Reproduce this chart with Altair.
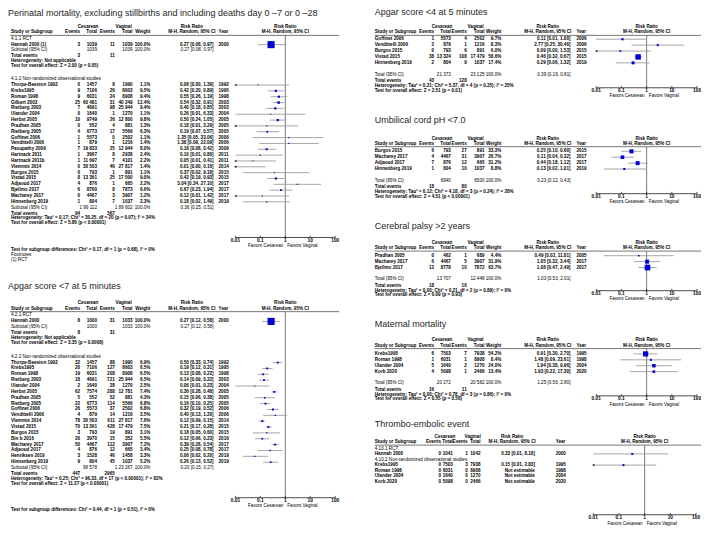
import altair as alt
import pandas as pd

# ======================= DATA =======================
tick_values = [0.01, 0.1, 1, 10, 100]
tick_labels = ["0.01", "0.1", "1", "10", "100"]
favours_labels = ["Favors Cesarean", "Favors Vaginal"]

# ---------- 4.1 Perinatal mortality ----------
pm_title = "Perinatal mortality, excluding stillbirths  and including deaths day 0 \u20137 or 0 \u201328"
pm_rct_label = "4.1.1 RCT"
pm_rct_study = ["Hannah 2000 (1)"]
pm_rct_ev_c = ["3"]
pm_rct_n_c = ["1039"]
pm_rct_ev_v = ["11"]
pm_rct_n_v = ["1039"]
pm_rct_weight = [100.0]
pm_rct_rr = [0.27]
pm_rct_lo = [0.08]
pm_rct_hi = [0.97]
pm_rct_year = ["2000"]
pm_rct_arrow = [0]
pm_rct_total_n = ["1039", "1039"]
pm_rct_total_ci = [0.27, 0.08, 0.97]
pm_rct_events = ["3", "11"]
pm_rct_het = "Heterogeneity: Not applicable"
pm_rct_test = "Test for overall effect: Z = 2.00 (p = 0.05)"

pm_obs_label = "4.1.2 Non-randomized observational studies"
pm_obs_study = ["Thorpe-Beeston 1992", "Krebs1995", "Roman 1998", "Gilbert 2003", "Rietberg 2003",
                "Ulander 2004", "Herbst 2005", "Pradhan 2005", "Rietberg 2005", "Goffinet 2006",
                "Vendittelli 2006", "Pasupathy 2009", "Hartnack 2011", "Hartnack 2011b", "Vlemmix 2014",
                "Burgos 2015", "Vistad 2015", "Adjaoud 2017", "Bjellmo 2017", "Macharey 2017",
                "Hinnenberg 2019"]
pm_obs_ev_c = ["0", "9", "9", "25", "7", "0", "10", "0", "4", "1", "1", "7", "1", "1", "0", "0", "8", "4", "6", "0", "1"]
pm_obs_n_c = ["1457", "7106", "6031", "60 481", "4691", "1640", "9749", "552", "6773", "5573", "879",
              "19 833", "3667", "11 697", "30 503", "793", "13 361", "876", "8760", "4467", "804"]
pm_obs_ev_v = ["8", "26", "24", "31", "98", "1", "26", "4", "17", "0", "1", "25", "8", "7", "46", "1", "25", "1", "8", "3", "7"]
pm_obs_n_v = ["1990", "8603", "8908", "40 249", "25 944", "1270", "12 800", "881", "5566", "2502", "1216",
              "12 944", "2938", "4101", "27 817", "891", "17 500", "665", "7873", "3907", "1037"]
pm_obs_weight = [1.1, 9.5, 9.4, 12.4, 9.4, 1.1, 9.8, 1.3, 6.3, 1.1, 1.4, 8.0, 2.4, 2.2, 1.4, 1.1, 9.0, 2.2, 6.6, 1.2, 2.3]
pm_obs_rr = [0.08, 0.42, 0.55, 0.54, 0.40, 0.26, 0.50, 0.18, 0.19, 1.35, 1.38, 0.18, 0.10, 0.05, 0.01, 0.37, 0.42, 3.04, 0.67, 0.12, 0.18]
pm_obs_lo = [0.00, 0.20, 0.26, 0.32, 0.18, 0.01, 0.24, 0.01, 0.07, 0.05, 0.09, 0.08, 0.01, 0.01, 0.00, 0.02, 0.19, 0.34, 0.23, 0.01, 0.02]
pm_obs_hi = [1.39, 0.89, 1.19, 0.91, 0.85, 6.33, 1.05, 3.29, 0.57, 33.06, 22.09, 0.42, 0.80, 0.41, 0.16, 9.18, 0.93, 27.10, 1.94, 1.42, 1.49]
pm_obs_year = ["1992", "1995", "1998", "2003", "2003", "2004", "2005", "2005", "2005", "2006", "2006",
               "2009", "2011", "2011", "2014", "2015", "2015", "2017", "2017", "2017", "2019"]
pm_obs_arrow = [1, 0, 0, 0, 0, 0, 0, 1, 0, 0, 0, 0, 0, 1, 1, 0, 0, 0, 0, 1, 0]
pm_obs_total_n = ["1 99 112", "1 89 602"]
pm_obs_total_ci = [0.36, 0.25, 0.51]
pm_obs_events = ["94", "367"]
pm_obs_het = "Heterogeneity: Tau\u00b2 = 0.17; Chi\u00b2 = 30.25, df = 20 (p = 0.07); I\u00b2 = 34%"
pm_obs_test = "Test for overall effect: Z = 5.86 (p < 0.00001)"
pm_subgroup = "Test for subgroup differences: Chi\u00b2 = 0.17, df = 1 (p = 0.68), I\u00b2 = 0%"
pm_footnotes = ["Footnotes", "(1) RCT"]

# ---------- 4.2 Apgar <7 ----------
a7_title = "Apgar score <7 at 5 minutes"
a7_rct_label = "4.2.1 RCT"
a7_rct_study = ["Hannah 2000"]
a7_rct_ev_c = ["8"]
a7_rct_n_c = ["1000"]
a7_rct_ev_v = ["31"]
a7_rct_n_v = ["1033"]
a7_rct_weight = [100.0]
a7_rct_rr = [0.27]
a7_rct_lo = [0.12]
a7_rct_hi = [0.58]
a7_rct_year = ["2000"]
a7_rct_arrow = [0]
a7_rct_total_n = ["1000", "1033"]
a7_rct_total_ci = [0.27, 0.12, 0.58]
a7_rct_events = ["8", "31"]
a7_rct_het = "Heterogeneity: Not applicable"
a7_rct_test = "Test for overall effect: Z = 3.35 (p = 0.0008)"

a7_obs_label = "4.2.2 Non-randomized observational studies"
a7_obs_study = ["Thorpe-Beeston 1992", "Krebs1995", "Roman 1998", "Rietberg 2003", "Ulander 2004",
                "Herbst 2005", "Pradhan 2005", "Rietberg 2005", "Goffinet 2006", "Vendittelli 2006",
                "Vlemmix 2014", "Vistad 2015", "Burgos 2015", "Bin b 2016", "Macharey 2017",
                "Adjaoud 2017", "Henriksen 2019", "Hinnenberg 2019"]
a7_obs_ev_c = ["32", "20", "19", "18", "2", "62", "5", "22", "26", "4", "78", "70", "3", "20", "50", "4", "3", "9"]
a7_obs_n_c = ["1457", "7106", "6031", "4691", "1640", "7574", "552", "6773", "5573", "879", "30 503",
              "13 361", "793", "3970", "4467", "876", "1528", "804"]
a7_obs_ev_v = ["88", "127", "208", "721", "28", "288", "52", "114", "37", "14", "611", "428", "19", "15", "112", "12", "46", "45"]
a7_obs_n_v = ["1990", "8603", "8908", "25 944", "1270", "12 781", "881", "5566", "2502", "1216", "27 817",
              "17 479", "891", "352", "3907", "665", "1458", "1037"]
a7_obs_weight = [6.9, 6.5, 6.5, 6.5, 2.5, 7.4, 4.3, 6.8, 6.8, 3.5, 7.6, 7.5, 3.1, 5.5, 7.2, 3.4, 3.3, 5.2]
a7_obs_rr = [0.50, 0.19, 0.13, 0.14, 0.06, 0.36, 0.15, 0.16, 0.32, 0.40, 0.12, 0.21, 0.18, 0.12, 0.39, 0.25, 0.06, 0.26]
a7_obs_lo = [0.33, 0.12, 0.08, 0.09, 0.01, 0.28, 0.06, 0.10, 0.19, 0.13, 0.09, 0.17, 0.05, 0.06, 0.28, 0.08, 0.02, 0.13]
a7_obs_hi = [0.74, 0.31, 0.22, 0.22, 0.23, 0.48, 0.38, 0.25, 0.52, 1.20, 0.15, 0.28, 0.60, 0.23, 0.54, 0.78, 0.20, 0.52]
a7_obs_year = ["1992", "1995", "1998", "2003", "2004", "2005", "2005", "2005", "2006", "2006", "2014",
               "2015", "2015", "2016", "2017", "2017", "2019", "2019"]
a7_obs_arrow = [0] * 18
a7_obs_total_n = ["98 578", "1 23 267"]
a7_obs_total_ci = [0.20, 0.15, 0.27]
a7_obs_events = ["447", "2965"]
a7_obs_het = "Heterogeneity: Tau\u00b2 = 0.25; Chi\u00b2 = 96.33, df = 17 (p < 0.00001); I\u00b2 = 82%"
a7_obs_test = "Test for overall effect: Z = 11.37 (p < 0.00001)"
a7_subgroup = "Test for subgroup differences: Chi\u00b2 = 0.44, df = 1 (p = 0.51), I\u00b2 = 0%"

# ---------- Apgar <4 ----------
a4_title = "Apgar score <4 at 5 minutes"
a4_study = ["Goffinet 2006", "Vendittelli 2006", "Burgos 2015", "Vistad 2015", "Hinnenberg 2019"]
a4_ev_c = ["1", "2", "0", "38", "2"]
a4_n_c = ["5573", "879", "793", "13 324", "804"]
a4_ev_v = ["4", "1", "6", "108", "9"]
a4_n_v = ["2502", "1216", "891", "17 479", "1037"]
a4_weight = [9.7, 8.3, 6.0, 58.6, 17.4]
a4_rr = [0.11, 2.77, 0.09, 0.46, 0.29]
a4_lo = [0.01, 0.25, 0.00, 0.32, 0.06]
a4_hi = [1.00, 30.46, 1.53, 0.67, 1.32]
a4_year = ["2006", "2006", "2015", "2015", "2019"]
a4_arrow = [0, 0, 1, 0, 0]
a4_total_n = ["21 373", "23 125"]
a4_total_ci = [0.39, 0.19, 0.81]
a4_events = ["43", "128"]
a4_het = "Heterogeneity: Tau\u00b2 = 0.21; Chi\u00b2 = 5.37, df = 4 (p = 0.25); I\u00b2 = 25%"
a4_test = "Test for overall effect: Z = 2.51 (p = 0.01)"

# ---------- Umbilical cord pH <7.0 ----------
ph_title = "Umbilical cord pH <7.0"
ph_study = ["Burgos 2015", "Macharey 2017", "Adjaoud 2017", "Hinnenberg 2019"]
ph_ev_c = ["6", "4", "7", "1"]
ph_n_c = ["793", "4467", "876", "804"]
ph_ev_v = ["27", "31", "12", "10"]
ph_n_v = ["891", "3907", "665", "1037"]
ph_weight = [33.3, 26.7, 31.2, 8.8]
ph_rr = [0.25, 0.11, 0.44, 0.13]
ph_lo = [0.10, 0.04, 0.18, 0.02]
ph_hi = [0.60, 0.32, 1.12, 1.01]
ph_year = ["2015", "2017", "2017", "2019"]
ph_arrow = [0, 0, 0, 0]
ph_total_n = ["6940", "6500"]
ph_total_ci = [0.23, 0.12, 0.43]
ph_events = ["18", "80"]
ph_het = "Heterogeneity: Tau\u00b2 = 0.12; Chi\u00b2 = 4.18, df = 3 (p = 0.24); I\u00b2 = 28%"
ph_test = "Test for overall effect: Z = 4.51 (p < 0.00001)"

# ---------- Cerebral palsy >2 years ----------
cp_title = "Cerebral palsy >2 years"
cp_study = ["Pradhan 2005", "Macharey 2017", "Bjellmo 2017"]
cp_ev_c = ["0", "6", "12"]
cp_n_c = ["462", "4467", "8778"]
cp_ev_v = ["1", "5", "10"]
cp_n_v = ["689", "3907", "7872"]
cp_weight = [4.4, 31.9, 63.7]
cp_rr = [0.49, 1.05, 1.08]
cp_lo = [0.02, 0.32, 0.47]
cp_hi = [11.81, 3.44, 2.49]
cp_year = ["2005", "2017", "2017"]
cp_arrow = [0, 0, 0]
cp_total_n = ["13 707", "12 448"]
cp_total_ci = [1.03, 0.53, 2.01]
cp_events = ["18", "16"]
cp_het = "Heterogeneity: Tau\u00b2 = 0.00; Chi\u00b2 = 0.21, df = 2 (p = 0.89); I\u00b2 = 0%"
cp_test = "Test for overall effect: Z = 0.09 (p = 0.93)"

# ---------- Maternal mortality ----------
mm_title = "Maternal mortality"
mm_study = ["Krebs1995", "Roman 1998", "Ulander 2004", "Korb 2020"]
mm_ev_c = ["6", "1", "5", "4"]
mm_n_c = ["7503", "6031", "1640", "5098"]
mm_ev_v = ["7", "1", "2", "1"]
mm_n_v = ["7938", "8908", "1270", "2466"]
mm_weight = [54.2, 8.4, 24.0, 13.4]
mm_rr = [0.91, 1.48, 1.94, 1.93]
mm_lo = [0.30, 0.09, 0.38, 0.22]
mm_hi = [2.70, 23.61, 9.96, 17.30]
mm_year = ["1995", "1998", "2004", "2020"]
mm_arrow = [0, 0, 0, 0]
mm_total_n = ["20 272", "20 582"]
mm_total_ci = [1.25, 0.56, 2.80]
mm_events = ["16", "11"]
mm_het = "Heterogeneity: Tau\u00b2 = 0.00; Chi\u00b2 = 0.78, df = 3 (p = 0.86); I\u00b2 = 0%"
mm_test = "Test for overall effect: Z = 0.55 (p = 0.58)"

# ---------- Thrombo-embolic event ----------
te_title = "Thrombo-embolic event"
te_rct_label = "4.10.1 RCT"
te_rct_study = ["Hannah 2000"]
te_rct_ev_c = ["0"]
te_rct_n_c = ["1041"]
te_rct_ev_v = ["1"]
te_rct_n_v = ["1042"]
te_rct_rr = [0.33]
te_rct_lo = [0.01]
te_rct_hi = [8.18]
te_rct_year = ["2000"]
te_rct_arrow = [0]
te_obs_label = "4.10.2 Non-randomized observational studies"
te_obs_study = ["Krebs1995", "Roman 1998", "Ulander 2004", "Korb 2020"]
te_obs_ev_c = ["0", "0", "0", "0"]
te_obs_n_c = ["7503", "6031", "1640", "5098"]
te_obs_ev_v = ["3", "0", "0", "0"]
te_obs_n_v = ["7938", "8908", "1270", "2466"]
te_obs_rr = [0.15, None, None, None]
te_obs_lo = [0.01, None, None, None]
te_obs_hi = [2.83, None, None, None]
te_obs_year = ["1995", "1998", "2004", "2020"]
te_obs_arrow = [1, 0, 0, 0]

# ======================= LAYOUT =======================
W, H = 693, 523
RX0, RX1 = 2.0, 703.0


def X(x):
    return round((x - RX0) * W / (RX1 - RX0), 2)


YS = alt.Scale(domain=[4.5, 535.5], range=[0, H], zero=False, nice=False)
TF = "Liberation Sans, Arial, sans-serif"
TTF = "Liberation Sans Narrow, Arial Narrow, Liberation Sans, sans-serif"
FS = 4.6
TFS = 9.0
BLUE = "#0000d0"
CI_GREY = "#9c9c9c"
DIA_H = 2.6

LEFT_COLS = dict(name=5, ce=75, ct=92, ve=110, vt=128, w=146, rr=210, rrc=188, yr=215, hc=83, hv=119)
RIGHT_COLS = dict(name=373, ce=433, ct=450, ve=466, vt=484, w=501, rr=571, rrc=548, yr=577, hc=441, hv=475)
THR_COLS = dict(name=373, ce=440, ct=452, ve=467, vt=480, w=None, rr=535, rrc=512, yr=556, hc=444, hv=472)

TXT = []
SEPS = []
FOREST = []


def put(x, y, text, align="left", bold=True, size=FS, font=TF, color="#000000"):
    TXT.append(dict(px=X(x), y=y, text=str(text), align=align, bold=bold, size=size, font=font, color=color))


def group(label, study, ev_c, n_c, ev_v, n_v, weight, rr, lo, hi, year, arrow,
          total_n=None, total_ci=None, events=None, het=None, test=None):
    return dict(label=label, study=study, ev_c=ev_c, n_c=n_c, ev_v=ev_v, n_v=n_v, weight=weight,
                rr=rr, lo=lo, hi=hi, year=year, arrow=arrow, total_n=total_n, total_ci=total_ci,
                events=events, het=het, test=test)


def forest_layers(L, boxes, cis, dias, arrows):
    fa, fb = L["fx"]
    sc = alt.Scale(type="log", domain=[0.01, 100], range=[X(fa), X(fb)])

    def XE(f):
        return alt.X(f"{f}:Q", scale=sc, axis=None)

    def YE(f):
        return alt.Y(f"{f}:Q", scale=YS, axis=None)

    ax = L["axis"]
    n = len(tick_values)
    out = [
        alt.Chart(pd.DataFrame({"x": [1.0], "y": [L["sep"]], "y2": [ax]}))
        .mark_rule(color="#6a6a6a", strokeWidth=0.9)
        .encode(x=XE("x"), y=YE("y"), y2="y2:Q"),
        alt.Chart(pd.DataFrame({"x": [tick_values[0]], "x2": [tick_values[-1]], "y": [ax]}))
        .mark_rule(color="#222222", strokeWidth=0.8)
        .encode(x=XE("x"), x2="x2:Q", y=YE("y")),
        alt.Chart(pd.DataFrame({"x": tick_values, "y": [ax - 1.8] * n, "y2": [ax] * n}))
        .mark_rule(color="#222222", strokeWidth=0.8)
        .encode(x=XE("x"), y=YE("y"), y2="y2:Q"),
        alt.Chart(pd.DataFrame({"x": tick_values, "y": [L["lab"]] * n, "t": tick_labels}))
        .mark_text(fontSize=4.8, font=TF, fontWeight="bold", baseline="middle", color="#000000")
        .encode(x=XE("x"), y=YE("y"), text="t:N"),
        alt.Chart(pd.DataFrame({"x": [1.0], "y": [L["fav"]], "t": [favours_labels[0]]}))
        .mark_text(fontSize=FS, font=TF, align="right", dx=-2, baseline="middle", color="#000000")
        .encode(x=XE("x"), y=YE("y"), text="t:N"),
        alt.Chart(pd.DataFrame({"x": [1.0], "y": [L["fav"]], "t": [favours_labels[1]]}))
        .mark_text(fontSize=FS, font=TF, align="left", dx=2, baseline="middle", color="#000000")
        .encode(x=XE("x"), y=YE("y"), text="t:N"),
    ]
    if cis:
        out.append(alt.Chart(pd.DataFrame(cis)).mark_rule(color=CI_GREY, strokeWidth=0.9)
                   .encode(x=XE("lo"), x2="hi:Q", y=YE("y")))
    if boxes:
        out.append(alt.Chart(pd.DataFrame(boxes)).mark_square(filled=True, color=BLUE, opacity=1)
                   .encode(x=XE("rr"), y=YE("y"), size=alt.Size("sz:Q", scale=None, legend=None)))
    if dias:
        out.append(alt.Chart(pd.DataFrame(dias)).mark_area(color="#000000", opacity=1)
                   .encode(x=XE("x"), y=YE("ya"), y2="yb:Q", detail="id:N", order=alt.Order("k:Q")))
    if arrows:
        out.append(alt.Chart(pd.DataFrame(arrows)).mark_point(shape="triangle-left", filled=True, size=7,
                                                             color="#222222", opacity=1)
                   .encode(x=XE("x"), y=YE("y")))
    return out


def draw_panel(title, groups, L, total_label):
    C = L["cols"]
    fa, fb = L["fx"]
    fmid = (fa + fb) / 2
    put(L["title_x"], L["title_y"], title, bold=False, size=TFS, font=TTF, color="#262626")
    put(C["hc"], L["h1"], "Cesarean", "center")
    put(C["hv"], L["h1"], "Vaginal", "center")
    put(C["rrc"], L["h1"], "Risk Ratio", "center")
    put(fmid, L["h1"], "Risk Ratio", "center")
    h2 = L["h2"]
    put(C["name"], h2, "Study or Subgroup")
    put(C["ce"], h2, "Events", "right")
    put(C["ct"], h2, "Total", "right")
    put(C["ve"], h2, "Events", "right")
    put(C["vt"], h2, "Total", "right")
    if C["w"]:
        put(C["w"], h2, "Weight", "right")
    put(C["rrc"], h2, "M-H, Random, 95% CI", "center")
    put(C["yr"], h2, "Year")
    put(fmid, h2, "M-H, Random, 95% CI", "center")
    SEPS.append(dict(px=X(L["sep_x"][0]), px2=X(L["sep_x"][1]), y=L["sep"]))
    boxes, cis, dias, arrows = [], [], [], []
    for gi, (g, gy) in enumerate(zip(groups, L["groups"])):
        if g["label"]:
            put(C["name"], gy["label"], g["label"], bold=False)
        for i, s in enumerate(g["study"]):
            y = gy["first"] + i * gy["pitch"]
            put(C["name"], y, s)
            put(C["ce"], y, g["ev_c"][i], "right")
            put(C["ct"], y, g["n_c"][i], "right")
            put(C["ve"], y, g["ev_v"][i], "right")
            put(C["vt"], y, g["n_v"][i], "right")
            wt = g["weight"][i] if g["weight"] else None
            if C["w"] and wt is not None:
                put(C["w"], y, f"{wt:.1f}%", "right")
            rr = g["rr"][i]
            if rr is None:
                put(C["rr"], y, "Not estimable", "right")
            else:
                lo, hi = g["lo"][i], g["hi"][i]
                put(C["rr"], y, f"{rr:.2f} [{lo:.2f}, {hi:.2f}]", "right")
                cis.append(dict(lo=max(lo, 0.01), hi=min(hi, 100.0), y=y))
                boxes.append(dict(rr=rr, y=y, sz=max(0.5 * wt, 1.3) if wt else 4.0))
                if g["arrow"][i]:
                    arrows.append(dict(x=0.01, y=y))
            put(C["yr"], y, g["year"][i])
        if g["total_n"]:
            ty = gy["total"]
            put(C["name"], ty, total_label, bold=False)
            put(C["ct"], ty, g["total_n"][0], "right", bold=False)
            put(C["vt"], ty, g["total_n"][1], "right", bold=False)
            if C["w"]:
                put(C["w"], ty, "100.0%", "right", bold=False)
            rr, lo, hi = g["total_ci"]
            put(C["rr"], ty, f"{rr:.2f} [{lo:.2f}, {hi:.2f}]", "right", bold=False)
            for k, xv in enumerate([lo, rr, hi]):
                half = DIA_H if k == 1 else 0.0
                dias.append(dict(id=f"{title[:6]}{gi}", k=k, x=xv, ya=ty - half, yb=ty + half))
            put(C["name"], gy["events"], "Total events")
            put(C["ce"], gy["events"], g["events"][0], "right")
            put(C["ve"], gy["events"], g["events"][1], "right")
            put(C["name"], gy["het"], g["het"])
            put(C["name"], gy["test"], g["test"])
    for (x, y, t, b) in L.get("extra", []):
        put(x, y, t, bold=b)
    FOREST.extend(forest_layers(L, boxes, cis, dias, arrows))


# ---------- panels ----------
pm_groups = [
    group(pm_rct_label, pm_rct_study, pm_rct_ev_c, pm_rct_n_c, pm_rct_ev_v, pm_rct_n_v, pm_rct_weight,
          pm_rct_rr, pm_rct_lo, pm_rct_hi, pm_rct_year, pm_rct_arrow, pm_rct_total_n, pm_rct_total_ci,
          pm_rct_events, pm_rct_het, pm_rct_test),
    group(pm_obs_label, pm_obs_study, pm_obs_ev_c, pm_obs_n_c, pm_obs_ev_v, pm_obs_n_v, pm_obs_weight,
          pm_obs_rr, pm_obs_lo, pm_obs_hi, pm_obs_year, pm_obs_arrow, pm_obs_total_n, pm_obs_total_ci,
          pm_obs_events, pm_obs_het, pm_obs_test),
]
L_pm = dict(cols=LEFT_COLS, title_x=2, title_y=10, h1=24, h2=29.3, sep=32.3, sep_x=(4, 337), fx=(232, 333),
            axis=237.5, lab=241.5, fav=246.5,
            groups=[dict(label=35.6, first=41.7, pitch=5.93, total=47.6, events=53.2, het=58.2, test=63.2),
                    dict(label=76.3, first=82.7, pitch=5.93, total=207.4, events=213.2, het=218.2, test=223.2)],
            extra=[(5, 250.3, pm_subgroup, True), (5, 255.3, pm_footnotes[0], False), (5, 260, pm_footnotes[1], False)])
draw_panel(pm_title, pm_groups, L_pm, "Subtotal (95% CI)")

a7_groups = [
    group(a7_rct_label, a7_rct_study, a7_rct_ev_c, a7_rct_n_c, a7_rct_ev_v, a7_rct_n_v, a7_rct_weight,
          a7_rct_rr, a7_rct_lo, a7_rct_hi, a7_rct_year, a7_rct_arrow, a7_rct_total_n, a7_rct_total_ci,
          a7_rct_events, a7_rct_het, a7_rct_test),
    group(a7_obs_label, a7_obs_study, a7_obs_ev_c, a7_obs_n_c, a7_obs_ev_v, a7_obs_n_v, a7_obs_weight,
          a7_obs_rr, a7_obs_lo, a7_obs_hi, a7_obs_year, a7_obs_arrow, a7_obs_total_n, a7_obs_total_ci,
          a7_obs_events, a7_obs_het, a7_obs_test),
]
L_a7 = dict(cols=LEFT_COLS, title_x=2, title_y=286.5, h1=304, h2=309.8, sep=312.8, sep_x=(4, 337), fx=(232, 333),
            axis=501.7, lab=505.5, fav=510.5,
            groups=[dict(label=316, first=322.7, pitch=5.95, total=328.8, events=334.5, het=339.5, test=344.5),
                    dict(label=358.4, first=364.5, pitch=5.95, total=471.5, events=477.3, het=482.3, test=487.3)],
            extra=[(5, 514, a7_subgroup, True)])
draw_panel(a7_title, a7_groups, L_a7, "Subtotal (95% CI)")


def right_layout(title_y, h1, first, n, axis, cols=RIGHT_COLS):
    last = first + (n - 1) * 6.0
    total = last + 12.0
    return dict(cols=cols, title_x=373, title_y=title_y, h1=h1, h2=h1 + 5.3, sep=h1 + 8.3, sep_x=(373, 703),
                fx=(597, 699), axis=axis, lab=axis + 3.6, fav=axis + 8.8,
                groups=[dict(label=None, first=first, pitch=6.0, total=total, events=total + 6.6,
                             het=total + 11.4, test=total + 16.2)])


a4_groups = [group(None, a4_study, a4_ev_c, a4_n_c, a4_ev_v, a4_n_v, a4_weight, a4_rr, a4_lo, a4_hi,
                   a4_year, a4_arrow, a4_total_n, a4_total_ci, a4_events, a4_het, a4_test)]
draw_panel(a4_title, a4_groups, right_layout(8.5, 24, 36.2, 5, 85.5), "Total (95% CI)")

ph_groups = [group(None, ph_study, ph_ev_c, ph_n_c, ph_ev_v, ph_n_v, ph_weight, ph_rr, ph_lo, ph_hi,
                   ph_year, ph_arrow, ph_total_n, ph_total_ci, ph_events, ph_het, ph_test)]
draw_panel(ph_title, ph_groups, right_layout(118.5, 137, 150, 4, 193), "Total (95% CI)")

cp_groups = [group(None, cp_study, cp_ev_c, cp_n_c, cp_ev_v, cp_n_v, cp_weight, cp_rr, cp_lo, cp_hi,
                   cp_year, cp_arrow, cp_total_n, cp_total_ci, cp_events, cp_het, cp_test)]
draw_panel(cp_title, cp_groups, right_layout(226, 243, 256, 3, 291.5), "Total (95% CI)")

mm_groups = [group(None, mm_study, mm_ev_c, mm_n_c, mm_ev_v, mm_n_v, mm_weight, mm_rr, mm_lo, mm_hi,
                   mm_year, mm_arrow, mm_total_n, mm_total_ci, mm_events, mm_het, mm_test)]
draw_panel(mm_title, mm_groups, right_layout(325, 342, 355.7, 4, 398.3), "Total (95% CI)")

te_groups = [
    group(te_rct_label, te_rct_study, te_rct_ev_c, te_rct_n_c, te_rct_ev_v, te_rct_n_v, None,
          te_rct_rr, te_rct_lo, te_rct_hi, te_rct_year, te_rct_arrow),
    group(te_obs_label, te_obs_study, te_obs_ev_c, te_obs_n_c, te_obs_ev_v, te_obs_n_v, None,
          te_obs_rr, te_obs_lo, te_obs_hi, te_obs_year, te_obs_arrow),
]
L_te = dict(cols=THR_COLS, title_x=373, title_y=426.7, h1=440, h2=445.3, sep=448.3, sep_x=(373, 703),
            fx=(594, 698), axis=519, lab=522.5, fav=528,
            groups=[dict(label=451.8, first=457.2, pitch=5.7), dict(label=463, first=468.6, pitch=5.7)])
draw_panel(te_title, te_groups, L_te, "Total (95% CI)")

# ---------- assemble ----------
layers = []
sep_df = pd.DataFrame(SEPS)
layers.append(alt.Chart(sep_df).mark_rule(color="#555555", strokeWidth=0.8).encode(
    x=alt.X("px:Q", scale=None), x2="px2:Q", y=alt.Y("y:Q", scale=YS, axis=None)))

tdf = pd.DataFrame(TXT)
for (align, bold, size, font, color), sub in tdf.groupby(["align", "bold", "size", "font", "color"]):
    layers.append(
        alt.Chart(sub[["px", "y", "text"]].reset_index(drop=True))
        .mark_text(align=str(align), baseline="middle", fontSize=float(size),
                   fontWeight="bold" if bool(bold) else "normal", font=str(font), color=str(color))
        .encode(x=alt.X("px:Q", scale=None), y=alt.Y("y:Q", scale=YS, axis=None), text="text:N")
    )

layers.extend(FOREST)

chart = (
    alt.layer(*layers)
    .resolve_scale(x="independent")
    .properties(width=W, height=H, padding=0, autosize=alt.AutoSizeParams(type="none"))
    .configure_view(stroke=None)
)

chart.save("out.html", embed_options={"renderer": "svg", "actions": False})
